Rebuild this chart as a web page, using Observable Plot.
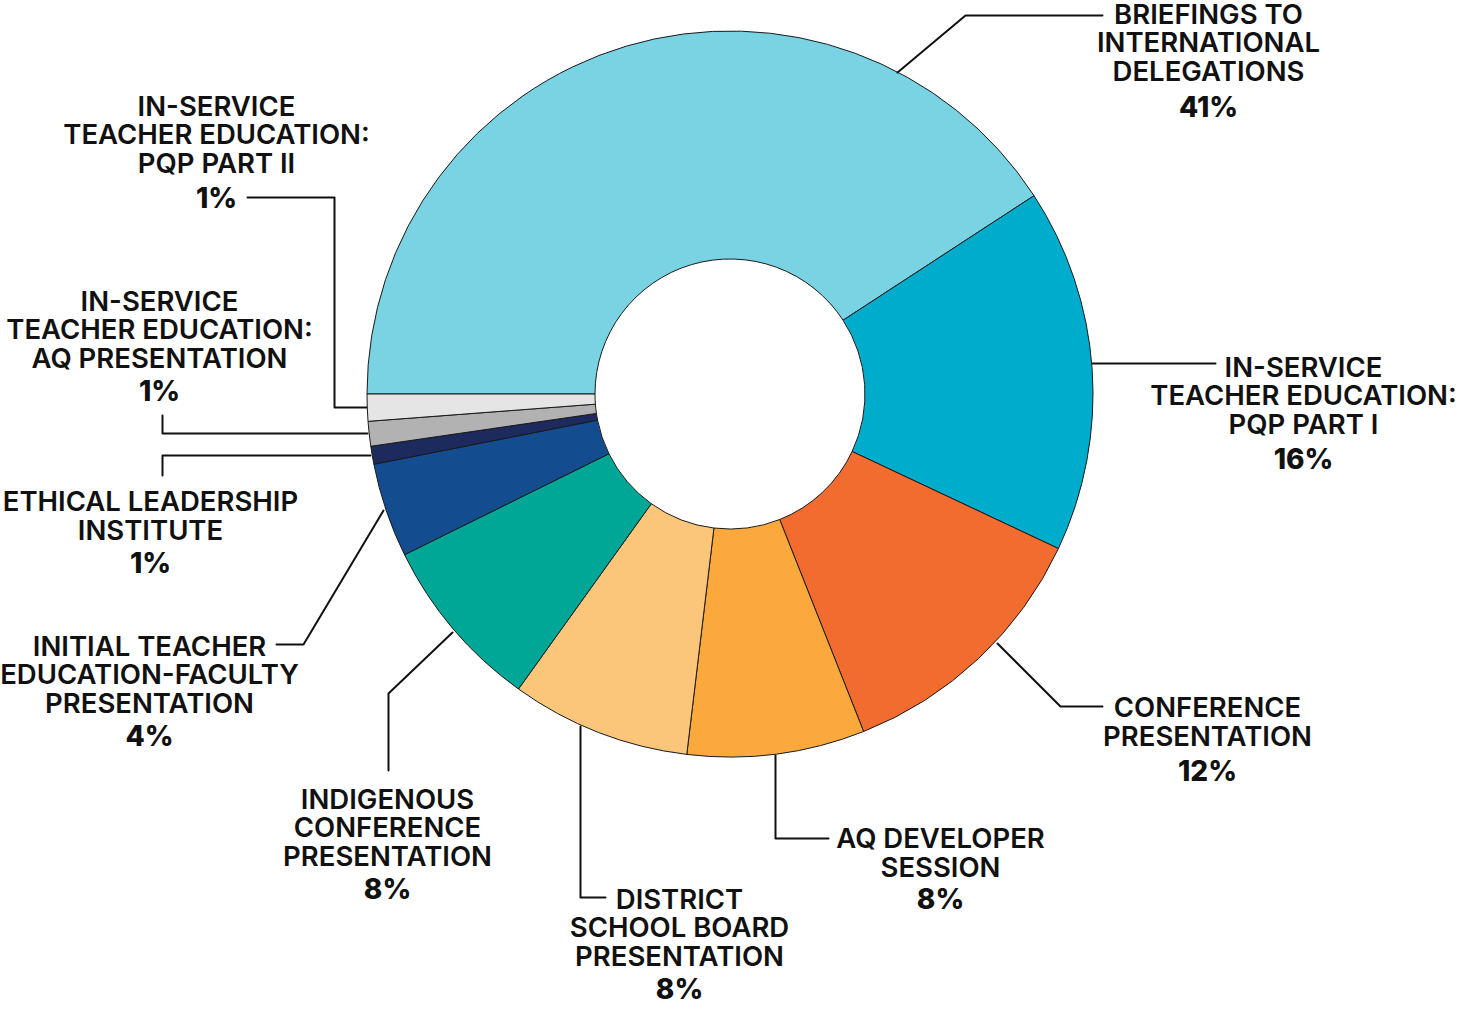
<!DOCTYPE html>
<html>
<head>
<meta charset="utf-8">
<script src="https://cdn.jsdelivr.net/npm/d3@7"></script>
<script src="https://cdn.jsdelivr.net/npm/@observablehq/plot@0.6"></script>
<style>
  html, body { margin: 0; padding: 0; background: #ffffff; }
  #chart svg { display: block; }
</style>
</head>
<body>
<div id="chart"></div>
<script>
// ---- Data ----
const categories = [
  "BRIEFINGS TO\nINTERNATIONAL\nDELEGATIONS",
  "IN-SERVICE\nTEACHER EDUCATION:\nPQP PART I",
  "CONFERENCE\nPRESENTATION",
  "AQ DEVELOPER\nSESSION",
  "DISTRICT\nSCHOOL BOARD\nPRESENTATION",
  "INDIGENOUS\nCONFERENCE\nPRESENTATION",
  "INITIAL TEACHER\nEDUCATION-FACULTY\nPRESENTATION",
  "ETHICAL LEADERSHIP\nINSTITUTE",
  "IN-SERVICE\nTEACHER EDUCATION:\nAQ PRESENTATION",
  "IN-SERVICE\nTEACHER EDUCATION:\nPQP PART II"
];
const values = [40.8, 16.2, 12.0, 7.9, 8.0, 7.8, 4.2, 0.8, 1.1, 1.2];
const percentLabels = ["41%", "16%", "12%", "8%", "8%", "8%", "4%", "1%", "1%", "1%"];
const colors = ["#79d3e3", "#00accb", "#f26b2f", "#fba93d", "#fbc57a", "#00a696", "#134d8f", "#1d2a5e", "#b2b2b2", "#e5e5e5"];

// ---- Layout (positions of the annotations) ----
const donut = {cx: 730, cy: 394, inner: 135, outer: 363};
const labelX = [1208, 1303, 1207, 940, 679, 387, 149, 150, 159, 216];
const nameBaseline = [80, 433, 745, 876, 965, 865, 712, 539, 367, 172];
const pctBaseline = [116, 468, 780, 908, 998, 898, 745, 572, 400, 207];
const leaders = [
  [[897, 72], [965, 15], [1102, 15]],
  [[1092, 363], [1215, 363]],
  [[997, 643], [1060, 706], [1102, 706]],
  [[775, 755], [775, 838], [828, 838]],
  [[580, 726], [580, 897], [605, 897]],
  [[452, 632], [388, 693], [388, 770]],
  [[383, 510], [303, 644], [276, 644]],
  [[370, 455], [162, 455], [162, 475]],
  [[367, 433], [162, 433], [162, 415]],
  [[366, 407], [334, 407], [334, 197], [247, 197]]
];

// ---- Tables built from the arrays ----
const slices = categories.map((c, i) => ({category: c, value: values[i]}));
const labels = categories.map((c, i) => ({
  name: c, pct: percentLabels[i], x: labelX[i], yName: nameBaseline[i], yPct: pctBaseline[i]
}));
const leaderPts = leaders.flatMap((pts, i) => pts.map(([x, y]) => ({id: i, x, y})));

// custom donut mark rendered through Plot's scales
function donutMark(index, scales) {
  const cx = scales.x(donut.cx), cy = scales.y(donut.cy);
  const color = scales.color ?? d3.scaleOrdinal(categories, colors);
  const pie = d3.pie().sort(null).value(d => d.value)
    .startAngle(-Math.PI / 2).endAngle(1.5 * Math.PI);
  const arc = d3.arc().innerRadius(donut.inner).outerRadius(donut.outer);
  const g = d3.create("svg:g").attr("transform", `translate(${cx},${cy})`);
  g.selectAll("path").data(pie(slices)).join("path")
    .attr("d", arc)
    .attr("fill", d => color(d.data.category))
    .attr("stroke", "#1a1a1a")
    .attr("stroke-width", 1)
    .attr("stroke-linejoin", "round");
  return g.node();
}

const FONT = "Inter, 'Noto Sans', sans-serif";

const chart = Plot.plot({
  width: 1467,
  height: 1009,
  margin: 0,
  x: {domain: [0, 1467], range: [0, 1467], axis: null},
  y: {domain: [0, 1009], range: [0, 1009], axis: null},
  color: {domain: categories, range: colors},
  style: {fontFamily: FONT, background: "#ffffff", color: "#111"},
  marks: [
    donutMark,
    Plot.line(leaderPts, {x: "x", y: "y", z: "id", stroke: "#111", strokeWidth: 2, curve: "linear"}),
    Plot.text(labels, {
      x: "x", y: "yName", text: "name", lineAnchor: "bottom", lineHeight: 1.036,
      fontSize: 27.5, fontWeight: 600, fill: "#111", fontFamily: FONT, textAnchor: "middle"
    }),
    Plot.text(labels, {
      x: "x", y: "yPct", text: "pct", lineAnchor: "bottom",
      fontSize: 28, fontWeight: 800, fill: "#111", fontFamily: FONT, textAnchor: "middle"
    })
  ]
});
document.getElementById("chart").appendChild(chart);
</script>
</body>
</html>
